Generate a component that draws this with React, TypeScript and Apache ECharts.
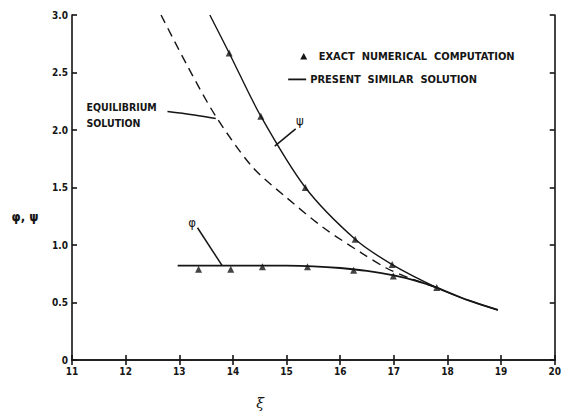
import React, { useEffect, useRef } from "react";
import * as echarts from "echarts";

// ξ values and φ/ψ values
const psiCurveX = [13.57, 13.93, 14.52, 15.35, 16.28, 16.97, 17.8, 18.38, 18.94];
const psiCurveY = [3.0, 2.67, 2.12, 1.5, 1.05, 0.83, 0.63, 0.52, 0.435];

const phiCurveX = [12.97, 13.5, 14.0, 14.5, 15.0, 15.5, 16.0, 16.5, 17.0, 17.4, 17.8, 18.38, 18.94];
const phiCurveY = [0.82, 0.82, 0.82, 0.82, 0.82, 0.815, 0.8, 0.775, 0.735, 0.69, 0.63, 0.52, 0.435];

const eqCurveX = [12.66, 13.16, 13.68, 14.36, 14.98, 15.69, 16.4, 16.86, 17.3, 17.8];
const eqCurveY = [3.0, 2.55, 2.12, 1.68, 1.42, 1.15, 0.93, 0.8, 0.71, 0.63];

const psiExactX = [13.93, 14.52, 15.35, 16.28, 16.97, 17.8];
const psiExactY = [2.67, 2.12, 1.5, 1.05, 0.83, 0.63];
const phiExactX = [13.36, 13.96, 14.55, 15.39, 16.25, 16.99];
const phiExactY = [0.79, 0.79, 0.81, 0.81, 0.78, 0.73];

const xTicks = [11, 12, 13, 14, 15, 16, 17, 18, 19, 20];
const yTicks = [0, 0.5, 1.0, 1.5, 2.0, 2.5, 3.0];

const INK = "#151515";
const FONT = "'DejaVu Sans Condensed', 'Liberation Sans Narrow', 'DejaVu Sans', sans-serif";

const zip = (xs: number[], ys: number[]) => xs.map((x, i) => [x, ys[i]]);

export default function App() {
  const ref = useRef<HTMLDivElement>(null);
  useEffect(() => {
    document.body.style.margin = "0";
    const chart = echarts.init(ref.current!, undefined, { renderer: "svg" });
    const grid = { left: 72, right: 7, top: 15, bottom: 55 };
    const axisLine = { show: true, lineStyle: { color: INK, width: 1.6 } };
    const tick = { show: true, inside: true, length: 5, lineStyle: { color: INK, width: 1.6 } };
    const labelStyle = { color: INK, fontFamily: FONT, fontWeight: "bold" as const, fontSize: 10 };
    chart.setOption({
      animation: false,
      backgroundColor: "#ffffff",
      grid,
      xAxis: [
        {
          type: "value", min: 11, max: 20, interval: 1, position: "bottom",
          axisLine, axisTick: tick, splitLine: { show: false },
          axisLabel: { ...labelStyle, margin: 6, formatter: (v: number) => (xTicks.includes(v) ? String(v) : "") },
        },
        {
          type: "value", min: 11, max: 20, interval: 1, position: "top",
          axisLine, axisTick: tick, splitLine: { show: false }, axisLabel: { show: false },
        },
      ],
      yAxis: [
        {
          type: "value", min: 0, max: 3, interval: 0.5, position: "left",
          axisLine, axisTick: tick, splitLine: { show: false },
          axisLabel: {
            ...labelStyle, margin: 4,
            formatter: (v: number) => (yTicks.includes(v) ? (v === 0 ? "0" : v.toFixed(1)) : ""),
          },
        },
        {
          type: "value", min: 0, max: 3, interval: 0.5, position: "right",
          axisLine, axisTick: tick, splitLine: { show: false }, axisLabel: { show: false },
        },
      ],
      series: [
        {
          name: "psi", type: "line", data: zip(psiCurveX, psiCurveY), smooth: 0.3,
          showSymbol: false, lineStyle: { color: INK, width: 1.4 },
        },
        {
          name: "phi", type: "line", data: zip(phiCurveX, phiCurveY), smooth: 0.3,
          showSymbol: false, lineStyle: { color: INK, width: 1.8 },
        },
        {
          name: "equilibrium", type: "line", data: zip(eqCurveX, eqCurveY), smooth: 0.3,
          showSymbol: false, lineStyle: { color: INK, width: 1.4, type: [9, 6] },
        },
        {
          name: "exact psi", type: "scatter", data: zip(psiExactX, psiExactY),
          symbol: "triangle", symbolSize: 7, itemStyle: { color: INK },
        },
        {
          name: "exact phi", type: "scatter", data: zip(phiExactX, phiExactY),
          symbol: "triangle", symbolSize: 7, itemStyle: { color: INK },
        },
      ],
    });

    const p = (x: number, y: number) => chart.convertToPixel({ gridIndex: 0 }, [x, y]) as number[];
    const annoFont = { fill: INK, fontFamily: FONT, fontWeight: "bold", fontSize: 11 };
    const lineStyle = { stroke: INK, lineWidth: 1.5, fill: "none" };
    const eqA = p(12.78, 2.16), eqB = p(13.28, 2.13), eqC = p(13.68, 2.1);
    const psA = p(15.17, 2.01), psB = p(14.78, 1.86);
    const phA = p(13.34, 1.15), phB = p(13.8, 0.82);
    const eqT1 = p(11.27, 2.2), eqT2 = p(11.27, 2.06);
    const psT = p(15.25, 2.08), phT = p(13.24, 1.2);
    const lgTri = p(15.32, 2.64), lgLine = p(15.03, 2.44);

    chart.setOption({
      graphic: [
        { type: "text", x: eqT1[0], y: eqT1[1], style: { ...annoFont, fontSize: 10.5, text: "EQUILIBRIUM", textVerticalAlign: "middle" } },
        { type: "text", x: eqT2[0], y: eqT2[1], style: { ...annoFont, fontSize: 10.5, text: "SOLUTION", textVerticalAlign: "middle" } },
        { type: "polyline", shape: { points: [eqA, eqB, eqC], smooth: 0.4 }, style: lineStyle },
        { type: "text", x: psT[0], y: psT[1], style: { ...annoFont, fontSize: 13, fontWeight: "normal", text: "ψ", textAlign: "center", textVerticalAlign: "middle" } },
        { type: "line", shape: { x1: psA[0], y1: psA[1], x2: psB[0], y2: psB[1] }, style: lineStyle },
        { type: "text", x: phT[0], y: phT[1], style: { ...annoFont, fontSize: 13, fontWeight: "normal", text: "φ", textAlign: "center", textVerticalAlign: "middle" } },
        { type: "line", shape: { x1: phA[0], y1: phA[1], x2: phB[0], y2: phB[1] }, style: lineStyle },
        {
          type: "polygon",
          shape: { points: [[lgTri[0], lgTri[1] - 3.5], [lgTri[0] + 3.5, lgTri[1] + 3], [lgTri[0] - 3.5, lgTri[1] + 3]] },
          style: { fill: INK },
        },
        { type: "text", x: lgTri[0] + 15, y: lgTri[1], style: { ...annoFont, text: "EXACT  NUMERICAL  COMPUTATION", textVerticalAlign: "middle" } },
        { type: "line", shape: { x1: lgLine[0], y1: lgLine[1], x2: lgLine[0] + 18, y2: lgLine[1] }, style: { stroke: INK, lineWidth: 1.8 } },
        { type: "text", x: lgLine[0] + 22, y: lgLine[1], style: { ...annoFont, text: "PRESENT  SIMILAR  SOLUTION", textVerticalAlign: "middle" } },
        { type: "text", x: 25, y: 216, style: { ...annoFont, fontSize: 13, text: "φ, ψ", textAlign: "center", textVerticalAlign: "middle" } },
        { type: "text", x: 260, y: 403, style: { fill: INK, fontFamily: "'DejaVu Serif', serif", fontStyle: "italic", fontSize: 14, text: "ξ", textAlign: "center", textVerticalAlign: "middle" } },
      ],
    });
    return () => chart.dispose();
  }, []);
  return <div ref={ref} style={{ position: "fixed", left: 0, top: 0, width: 564, height: 415, background: "#fff" }} />;
}
